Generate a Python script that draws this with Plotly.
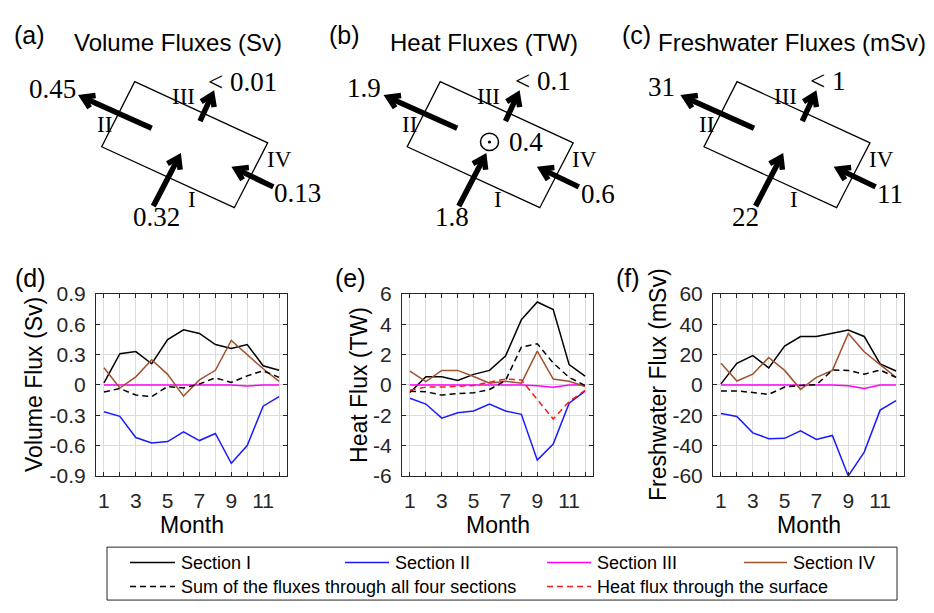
import math
import plotly.graph_objects as go

W, H = 934, 613
SANS = "Liberation Sans, Arial, Helvetica, sans-serif"
SERIF = "Liberation Serif, Times New Roman, serif"
INK = "#262626"

# ---------------- data ----------------
months = list(range(1, 13))
month_ticktext = ["1", "", "3", "", "5", "", "7", "", "9", "", "11", ""]

# Volume fluxes (Sv)
vol_sec1 = [0.02, 0.31, 0.33, 0.21, 0.45, 0.545, 0.51, 0.40, 0.36, 0.40, 0.19, 0.145]
vol_sec2 = [-0.265, -0.31, -0.52, -0.575, -0.56, -0.465, -0.55, -0.48, -0.775, -0.60, -0.21, -0.115]
vol_sec3 = [0, 0, 0, 0, 0, 0, 0, 0, 0, -0.01, 0, 0]
vol_sec4 = [0.17, -0.03, 0.08, 0.25, 0.105, -0.11, 0.05, 0.145, 0.44, 0.30, 0.16, 0.035]
vol_sum = [-0.07, -0.035, -0.10, -0.115, -0.015, -0.03, 0.01, 0.07, 0.025, 0.09, 0.14, 0.075]

# Heat fluxes (TW)
heat_sec1 = [-0.5, 0.54, 0.54, 0.29, 0.7, 0.96, 1.9, 4.3, 5.47, 4.98, 1.34, 0.58]
heat_sec2 = [-0.88, -1.26, -2.19, -1.83, -1.72, -1.26, -1.72, -1.94, -4.96, -3.9, -1.2, -0.41]
heat_sec3 = [0, 0, 0, 0, 0, 0, 0, 0, -0.05, -0.15, 0, 0]
heat_sec4 = [0.92, 0.22, 0.96, 0.96, 0.56, 0.12, 0.24, 0.12, 2.23, 0.39, 0.24, -0.1]
heat_sum = [-0.41, -0.45, -0.67, -0.56, -0.52, -0.3, 0.29, 2.5, 2.72, 1.45, 0.5, -0.03]
heat_surface = [-0.35, -0.14, -0.14, -0.1, -0.03, 0.18, 0.39, 0.33, -0.98, -2.25, -1.09, -0.35]

# Freshwater fluxes (mSv)
fw_sec1 = [0.7, 14.3, 19.4, 11.3, 25.7, 31.9, 31.9, 34, 36.3, 32, 13.9, 9.2]
fw_sec2 = [-18.9, -20.8, -31.6, -35.4, -35.2, -30.2, -35.9, -33.3, -60, -44.3, -16.6, -10.3]
fw_sec3 = [0, 0, 0, 0, 0, 0, 0, 0, -0.5, -2.4, 0, 0]
fw_sec4 = [14.3, 2.6, 7.1, 18.1, 9.6, -2.9, 5, 9.6, 34, 21.9, 13.4, 5]
fw_sum = [-3.9, -3.9, -5, -6.2, -1.4, -0.3, 0.1, 9.8, 9.6, 7.1, 9.8, 5]

vol_ticks = [-0.9, -0.6, -0.3, 0, 0.3, 0.6, 0.9]
vol_ticktext = ["-0.9", "-0.6", "-0.3", "0", "0.3", "0.6", "0.9"]
heat_ticks = [-6, -4, -2, 0, 2, 4, 6]
heat_ticktext = ["-6", "-4", "-2", "0", "2", "4", "6"]
fw_ticks = [-60, -40, -20, 0, 20, 40, 60]
fw_ticktext = ["-60", "-40", "-20", "0", "20", "40", "60"]

# annual-mean transports shown in the box diagrams (sections I, II, III, IV)
vol_mean_labels = ["0.32", "0.45", "< 0.01", "0.13"]
heat_mean_labels = ["1.8", "1.9", "< 0.1", "0.6"]
heat_surface_label = "0.4"
fw_mean_labels = ["22", "31", "< 1", "11"]
section_names = ["I", "II", "III", "IV"]

legend_names = ["Section I", "Section II", "Section III", "Section IV",
                "Sum of the fluxes through all four sections",
                "Heat flux through the surface"]

# ---------------- styles ----------------
C_I, C_II, C_III, C_IV = "#000000", "#1a1aff", "#ff00ff", "#a0522d"
C_SUM, C_SURF = "#000000", "#ff1a1a"
DASH = "6px,4px"


def X(x):
    return x / W


def Y(y):
    return 1 - y / H


fig = go.Figure()

panels = [
    ("x", "y", [vol_sec1, vol_sec2, vol_sec3, vol_sec4, vol_sum], None),
    ("x2", "y2", [heat_sec1, heat_sec2, heat_sec3, heat_sec4, heat_sum], heat_surface),
    ("x3", "y3", [fw_sec1, fw_sec2, fw_sec3, fw_sec4, fw_sum], None),
]
styles = [(C_I, "solid"), (C_II, "solid"), (C_III, "solid"), (C_IV, "solid"), (C_SUM, DASH)]
for xa, ya, series, surf in panels:
    for (col, dash), vals, name in zip(styles, series, legend_names):
        fig.add_trace(go.Scatter(x=months, y=vals, mode="lines", name=name,
                                 line=dict(color=col, width=1.5, dash=dash),
                                 xaxis=xa, yaxis=ya, showlegend=False))
    if surf is not None:
        fig.add_trace(go.Scatter(x=months, y=surf, mode="lines", name=legend_names[5],
                                 line=dict(color=C_SURF, width=1.5, dash=DASH),
                                 xaxis=xa, yaxis=ya, showlegend=False))

axis_common = dict(showline=True, linecolor=INK, linewidth=1, mirror="ticks",
                   ticks="inside", ticklen=4, tickcolor=INK, showgrid=True,
                   gridcolor="#dcdcdc", gridwidth=1, zeroline=False,
                   tickfont=dict(family=SANS, size=21, color=INK), fixedrange=True)

plot_left = [96, 402, 713]
plot_w = 191
plot_top, plot_bot = 293, 482
y_axes = [(vol_ticks, vol_ticktext), (heat_ticks, heat_ticktext), (fw_ticks, fw_ticktext)]

layout_axes = {}
for i, (left, (tv, tt)) in enumerate(zip(plot_left, y_axes)):
    sfx = "" if i == 0 else str(i + 1)
    layout_axes["xaxis" + sfx] = dict(axis_common, domain=[X(left), X(left + plot_w)],
                                      range=[0.5, 12.5], tickvals=months,
                                      ticktext=month_ticktext, anchor="y" + sfx,
                                      ticklabelstandoff=6)
    layout_axes["yaxis" + sfx] = dict(axis_common, domain=[Y(plot_bot), Y(plot_top)],
                                      range=[tv[0], tv[-1]], tickvals=tv, ticktext=tt,
                                      anchor="x" + sfx, ticklabelstandoff=5)

annotations = []
shapes = []


def text(x, y, s, size, family=SANS, xanchor="center", angle=0):
    annotations.append(dict(x=X(x), y=Y(y), xref="paper", yref="paper", text=s,
                            showarrow=False, xanchor=xanchor, yanchor="middle",
                            textangle=angle,
                            font=dict(family=family, size=size, color="#000000")))


# axis titles and panel letters for the monthly panels
y_titles = ["Volume Flux (Sv)", "Heat Flux (TW)", "Freshwater Flux (mSv)"]
y_title_x = [34, 359, 658]
for left, ttl, tx in zip(plot_left, y_titles, y_title_x):
    text(tx, 387.5, ttl, 23, angle=-90)
    text(left + plot_w / 2, 533, "Month", 23)
for s, x in zip(["(d)", "(e)", "(f)"], [30, 350, 628]):
    text(x, 276, s, 25)

# box diagrams
diag_dx = [0, 305.5, 602.3]
diag_letters = ["(a)", "(b)", "(c)"]
diag_letter_x = [29, 344, 636]
diag_titles = ["Volume Fluxes (Sv)", "Heat Fluxes (TW)", "Freshwater Fluxes (mSv)"]
diag_title_x = [178, 484, 791.5]
diag_labels = [vol_mean_labels, heat_mean_labels, fw_mean_labels]
label_pos = [
    [(156, 213), (52.5, 80.5), (242.5, 72.5), (297, 188)],
    [(451.7, 213), (364, 78.5), (542.5, 72), (597.5, 189)],
    [(745.5, 213), (661.7, 78), (827.5, 72), (890, 189)],
]
box_corners = [(134.7, 72.3), (267.7, 136), (234.3, 203.3), (101.7, 140)]
arrow_geom = [((153.3, 201.7), (180, 148.3)),
              ((151.7, 120.7), (80, 87.3)),
              ((200, 113.3), (213.3, 83.3)),
              ((273.3, 181.7), (233.3, 161.7))]
roman_pos = [(192, 195), (104, 116.7), (183, 88), (279, 153)]


def pt(x, y):
    return f"{X(x):.5f},{Y(y):.5f}"


def draw_arrow(tail, tip, w=5.5, L=13, ang=33):
    tx, ty = tail
    hx, hy = tip
    n = math.hypot(hx - tx, hy - ty)
    ux, uy = (hx - tx) / n, (hy - ty) / n
    sx, sy = hx - ux * 4, hy - uy * 4
    shapes.append(dict(type="line", xref="paper", yref="paper", x0=X(tx), y0=Y(ty),
                       x1=X(sx), y1=Y(sy), line=dict(color="#000000", width=w)))
    px_, py_ = hx - ux * 3, hy - uy * 3
    arms = []
    for sgn in (1, -1):
        a = math.radians(sgn * ang)
        bx, by = -ux, -uy
        rx = bx * math.cos(a) - by * math.sin(a)
        ry = bx * math.sin(a) + by * math.cos(a)
        arms.append((px_ + L * rx, py_ + L * ry))
    path = f"M{pt(*arms[0])} L{pt(px_, py_)} L{pt(*arms[1])}"
    shapes.append(dict(type="path", xref="paper", yref="paper", path=path,
                       line=dict(color="#000000", width=w)))


for k in range(3):
    dx = diag_dx[k]
    text(diag_letter_x[k], 24, diag_letters[k], 25)
    text(diag_title_x[k], 32, diag_titles[k], 24)
    corners = [(x + dx, y) for x, y in box_corners]
    path = "M" + " L".join(pt(*c) for c in corners) + " Z"
    shapes.append(dict(type="path", xref="paper", yref="paper", path=path,
                       line=dict(color="#000000", width=1.3)))
    for (tail, tip) in arrow_geom:
        draw_arrow((tail[0] + dx, tail[1]), (tip[0] + dx, tip[1]))
    for name, (rx, ry) in zip(section_names, roman_pos):
        text(rx + dx, ry, name, 23, family=SERIF)
    for lab, (lx, ly) in zip(diag_labels[k], label_pos[k]):
        text(lx, ly, lab, 27, family=SERIF)

# surface heat flux symbol (out of the page)
cx, cy, r = 489.5, 135, 9
shapes.append(dict(type="circle", xref="paper", yref="paper", x0=X(cx - r), x1=X(cx + r),
                   y0=Y(cy + r), y1=Y(cy - r), line=dict(color="#000000", width=1.5)))
shapes.append(dict(type="circle", xref="paper", yref="paper", x0=X(cx - 1.6), x1=X(cx + 1.6),
                   y0=Y(cy + 1.6), y1=Y(cy - 1.6), fillcolor="#000000",
                   line=dict(color="#000000", width=0)))
text(507, 135, heat_surface_label, 27, family=SERIF, xanchor="left")

# legend box
shapes.append(dict(type="rect", xref="paper", yref="paper", x0=X(107), x1=X(897),
                   y0=Y(611), y1=Y(556), line=dict(color=INK, width=1)))
legend_items = [
    (legend_names[0], C_I, "solid", 130, 175, 572),
    (legend_names[1], C_II, "solid", 345, 389, 572),
    (legend_names[2], C_III, "solid", 547, 591, 572),
    (legend_names[3], C_IV, "solid", 744, 787, 572),
    (legend_names[4], C_SUM, DASH, 130, 175, 597),
    (legend_names[5], C_SURF, DASH, 547, 591, 597),
]
for name, col, dash, x0, x1, y in legend_items:
    shapes.append(dict(type="line", xref="paper", yref="paper", x0=X(x0), x1=X(x1),
                       y0=Y(y), y1=Y(y), line=dict(color=col, width=1.5, dash=dash)))
    text(x1 + 4, y, name, 18, xanchor="left")

fig.update_layout(width=W, height=H, margin=dict(l=0, r=0, t=0, b=0),
                  paper_bgcolor="white", plot_bgcolor="white", showlegend=False,
                  annotations=annotations, shapes=shapes, **layout_axes)

fig.write_html("out.html")
